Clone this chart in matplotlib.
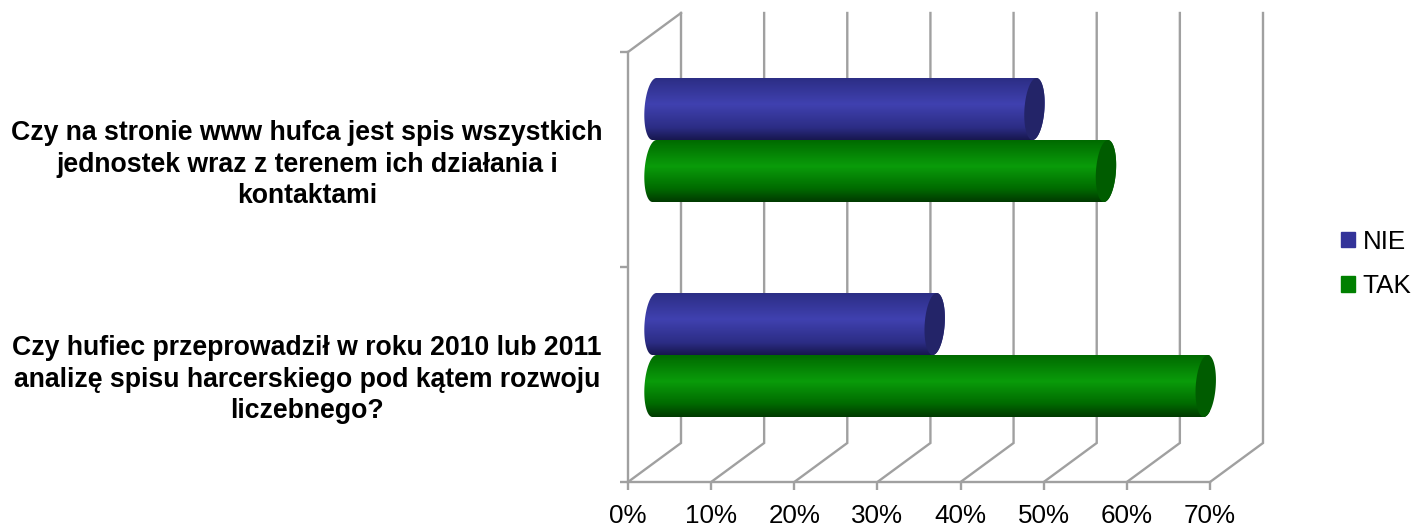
import numpy as np
import matplotlib
matplotlib.use("Agg")
import matplotlib.pyplot as plt
from matplotlib.colors import LinearSegmentedColormap
from matplotlib.patches import PathPatch, Patch, Polygon
from matplotlib.path import Path

plt.rcParams["font.family"] = ["Liberation Sans", "DejaVu Sans"]

# data
categories = [
    "Czy na stronie www hufca jest spis wszystkich\njednostek wraz z terenem ich działania i\nkontaktami",
    "Czy hufiec przeprowadził w roku 2010 lub 2011\nanalizę spisu harcerskiego pod kątem rozwoju\nliczebnego?",
]
series_names = ["NIE", "TAK"]
nie_values = [45.7, 33.7]
tak_values = [54.3, 66.3]
x_ticks = [0, 10, 20, 30, 40, 50, 60, 70]
x_tick_labels = ["0%", "10%", "20%", "30%", "40%", "50%", "60%", "70%"]

W, H = 1417, 527
GREY = "#a0a0a0"

fig = plt.figure(figsize=(W / 100, H / 100), dpi=100)
# axes frame is the front plane of the fake 3d box
ax = fig.add_axes([628 / W, 1 - 482 / H, 582 / W, 430 / H])
ax.set_facecolor("none")

# depth of the 3d box in data units
depth_x = 53 / 582 * 70
depth_y = 39 / 215
bar_h = 62 / 215
cap_a = 10 / 582 * 70
skew = 2 / 582 * 70

blue_cm = LinearSegmentedColormap.from_list(
    "blue", [(0, "#2c2e85"), (0.42, "#4041b0"), (0.8, "#2c2d85"), (1, "#17174f")])
green_cm = LinearSegmentedColormap.from_list(
    "green", [(0, "#006a00"), (0.42, "#0a9c0a"), (0.78, "#006c00"), (1, "#003a00")])
cap_colors = ["#232468", "#005c00"]


def cylinder(val, yc, cmap, cap_color):
    x0 = depth_x / 2
    x1 = x0 + val
    t = np.linspace(-np.pi / 2, np.pi / 2, 60)
    # y grows downwards here because the axis is inverted
    ex = cap_a * np.cos(t) - skew * np.sin(t)
    ey = bar_h / 2 * np.sin(t)
    right = np.column_stack([x1 + ex, yc + ey])
    left = np.column_stack([x0 - cap_a * np.cos(t[::-1]) - skew * np.sin(t[::-1]),
                            yc + ey[::-1]])
    body = PathPatch(Path(np.vstack([right, left, right[:1]])),
                     transform=ax.transData, fc="none", ec="none")
    ax.add_patch(body)
    grad = np.linspace(0, 1, 128).reshape(-1, 1)
    im = ax.imshow(grad, cmap=cmap, aspect="auto", zorder=3, interpolation="bilinear",
                   extent=[x0 - 3, x1 + 3, yc + bar_h / 2, yc - bar_h / 2])
    im.set_clip_path(body)
    t2 = np.linspace(0, 2 * np.pi, 120)
    cap = Polygon(np.column_stack([x1 + cap_a * np.cos(t2) - skew * np.sin(t2),
                                   yc + bar_h / 2 * np.sin(t2)]),
                  fc=cap_color, ec="none", zorder=4, clip_on=False)
    ax.add_patch(cap)


# back wall grid + floor lines
for v in x_ticks:
    ax.plot([v, v + depth_x, v + depth_x], [2, 2 - depth_y, 0 - depth_y],
            color=GREY, lw=1.7, zorder=1, clip_on=False, solid_joinstyle="miter")
ax.plot([0, depth_x], [0, -depth_y], color=GREY, lw=1.7, zorder=1, clip_on=False)

for i in range(len(categories)):
    yc = i + 0.5 - depth_y / 2
    cylinder(nie_values[i], yc - bar_h / 2, blue_cm, cap_colors[0])
    cylinder(tak_values[i], yc + bar_h / 2, green_cm, cap_colors[1])
    ax.text((307 - 628) / 582 * 70, i + 0.525, categories[i],
            ha="center", va="center", ma="center", fontsize=19.2, fontweight="bold",
            color="black", linespacing=1.27, clip_on=False)

ax.set_xlim(0, 70)
ax.set_ylim(2, 0)
ax.set_xticks(x_ticks)
ax.set_xticklabels(x_tick_labels, fontsize=18.7, color="black")
ax.set_yticks([0, 1, 2])
ax.set_yticklabels([])
ax.tick_params(axis="both", color=GREY, width=1.7, length=6)
ax.tick_params(axis="x", pad=10)
for s in ["top", "right"]:
    ax.spines[s].set_visible(False)
for s in ["left", "bottom"]:
    ax.spines[s].set_color(GREY)
    ax.spines[s].set_linewidth(1.7)

handles = [Patch(color="#333399", label=series_names[0]),
           Patch(color="#008000", label=series_names[1])]
fig.legend(handles=handles, loc="center left", bbox_to_anchor=(1341 / W, 1 - 264 / H),
           frameon=False, fontsize=18.7, handlelength=0.54, handleheight=0.54,
           handletextpad=0.3, labelspacing=0.8, borderpad=0, borderaxespad=0)

fig.savefig("out.png", dpi=100, facecolor="white")
